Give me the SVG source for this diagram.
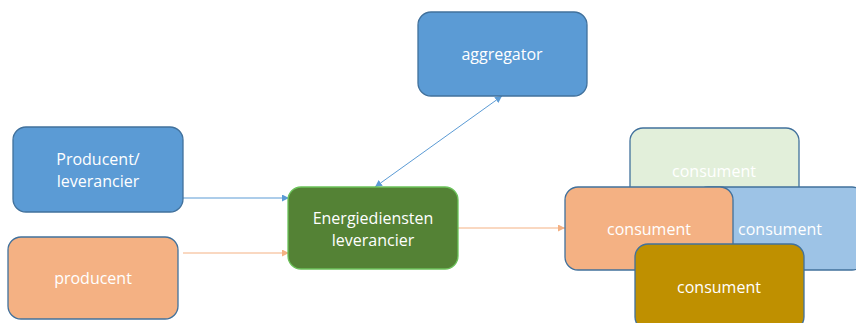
<svg xmlns="http://www.w3.org/2000/svg" width="856" height="323" viewBox="0 0 856 323">
  <defs>
    <marker id="arrBlue" viewBox="0 0 10 10" refX="10" refY="5" markerWidth="7" markerHeight="7" orient="auto-start-reverse" markerUnits="userSpaceOnUse">
      <path d="M0,0 L10,5 L0,10 z" fill="#5b9bd5"/>
    </marker>
    <marker id="arrPeach" viewBox="0 0 10 10" refX="10" refY="5" markerWidth="7" markerHeight="7" orient="auto" markerUnits="userSpaceOnUse">
      <path d="M0,0 L10,5 L0,10 z" fill="#f4b183"/>
    </marker>
  </defs>
  <style>
    .box { stroke: #41719c; stroke-width: 1.3; }
    .lbl { font-family: "Open Sans", "Noto Sans", "DejaVu Sans", sans-serif; font-size: 16px; fill: #ffffff; text-anchor: middle; dominant-baseline: central; }
    .blue { fill: #5b9bd5; }
    .peach { fill: #f4b183; }
    .green { fill: #548235; stroke: #6cc25a; }
    .lgreen { fill: #e2efda; }
    .lblue { fill: #9dc3e6; }
    .gold { fill: #bf9000; }
    .cb { stroke: #5b9bd5; stroke-width: 1; fill: none; }
    .cp { stroke: #f4b183; stroke-width: 1; fill: none; }
  </style>

  <g id="connectors">
    <line class="cb" x1="183" y1="198" x2="289" y2="198" marker-end="url(#arrBlue)"/>
    <line class="cp" x1="183" y1="253" x2="289" y2="253" marker-end="url(#arrPeach)"/>
    <line class="cb" x1="375" y1="187" x2="502" y2="96" marker-start="url(#arrBlue)" marker-end="url(#arrBlue)"/>
    <line class="cp" x1="458" y1="228" x2="565" y2="228" marker-end="url(#arrPeach)"/>
  </g>

  <g id="producent-leverancier">
    <rect class="box blue" x="13" y="127" width="170" height="85" rx="13"/>
    <text class="lbl" x="98" y="159">Producent/</text>
    <text class="lbl" x="98" y="181">leverancier</text>
  </g>

  <g id="producent">
    <rect class="box peach" x="8" y="237" width="170" height="82" rx="13"/>
    <text class="lbl" x="93" y="278">producent</text>
  </g>

  <g id="aggregator">
    <rect class="box blue" x="418" y="12" width="169" height="84" rx="13"/>
    <text class="lbl" x="502" y="54">aggregator</text>
  </g>

  <g id="energiediensten-leverancier">
    <rect class="box green" x="288" y="187" width="170" height="82" rx="13"/>
    <text class="lbl" x="373" y="218">Energiediensten</text>
    <text class="lbl" x="373" y="240">leverancier</text>
  </g>

  <g id="consument-1">
    <rect class="box lgreen" x="630" y="128" width="169" height="86" rx="13"/>
    <text class="lbl" x="714" y="171">consument</text>
  </g>

  <g id="consument-2">
    <rect class="box lblue" x="695" y="187" width="170" height="83" rx="13"/>
    <text class="lbl" x="780" y="229">consument</text>
  </g>

  <g id="consument-3">
    <rect class="box peach" x="565" y="187" width="168" height="83" rx="13"/>
    <text class="lbl" x="649" y="229">consument</text>
  </g>

  <g id="consument-4">
    <rect class="box gold" x="635" y="244" width="169" height="86" rx="13"/>
    <text class="lbl" x="719" y="287">consument</text>
  </g>
</svg>
